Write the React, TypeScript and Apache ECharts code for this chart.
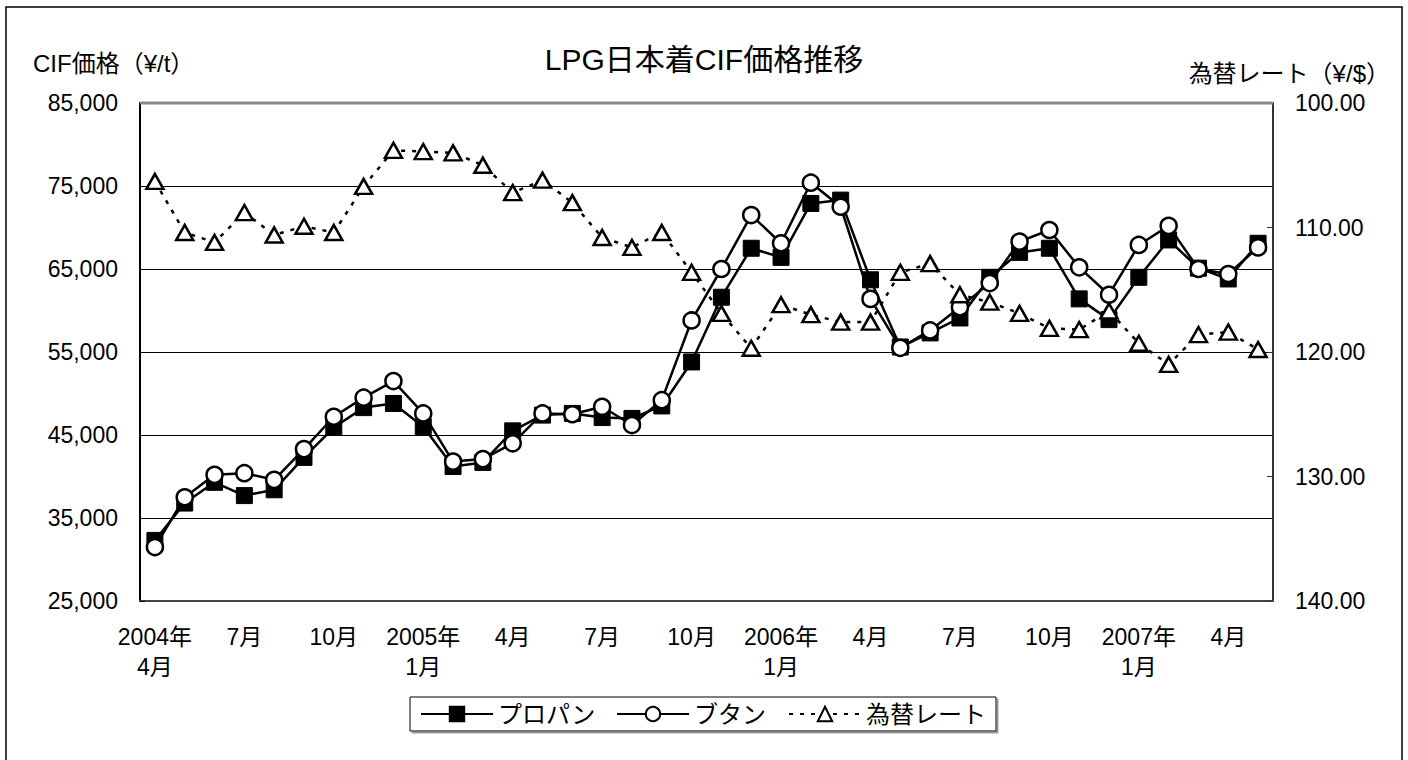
import React, { useEffect, useRef } from "react";
import * as echarts from "echarts";

const categories: string[] = [
  "2004年\n4月", "5月", "6月", "7月", "8月", "9月", "10月", "11月", "12月",
  "2005年\n1月", "2月", "3月", "4月", "5月", "6月", "7月", "8月", "9月", "10月", "11月", "12月",
  "2006年\n1月", "2月", "3月", "4月", "5月", "6月", "7月", "8月", "9月", "10月", "11月", "12月",
  "2007年\n1月", "2月", "3月", "4月", "5月",
];

const propane: number[] = [
  32300, 36800, 39300, 37700, 38400, 42300, 45900, 48300, 48800, 46000, 41200, 41700,
  45500, 47400, 47600, 47100, 47000, 48500, 53800, 61600, 67500, 66400, 72900, 73300,
  63700, 55600, 57300, 59100, 64000, 67000, 67500, 61400, 58900, 64000, 68500, 65100,
  63800, 68100,
];

const butane: number[] = [
  31500, 37500, 40200, 40400, 39600, 43300, 47200, 49500, 51500, 47600, 41800, 42100,
  44000, 47600, 47500, 48400, 46200, 49200, 58800, 65000, 71500, 68100, 75400, 72500,
  61400, 55500, 57600, 60400, 63300, 68300, 69700, 65200, 61900, 67900, 70200, 65000,
  64400, 67600,
];

const exchangeRate: number[] = [
  106.3, 110.4, 111.2, 108.8, 110.6, 109.9, 110.4, 106.7, 103.8, 103.9, 104.0, 105.0,
  107.2, 106.2, 108.0, 110.8, 111.6, 110.4, 113.6, 116.9, 119.7, 116.2, 117.0, 117.6,
  117.6, 113.6, 112.9, 115.4, 116.0, 116.9, 118.1, 118.2, 116.7, 119.3, 121.0, 118.6,
  118.4, 119.8,
];

const seriesNames = ["プロパン", "ブタン", "為替レート"];
const titleText = "LPG日本着CIF価格推移";
const leftAxisName = "CIF価格（¥/t）";
const rightAxisName = "為替レート（¥/$）";

const FONT = "'Liberation Sans', 'Noto Sans CJK JP', sans-serif";

export default function App() {
  const ref = useRef<HTMLDivElement>(null);
  useEffect(() => {
    if (!ref.current) return;
    const chart = echarts.init(ref.current, undefined, { renderer: "svg" });
    chart.setOption({
      animation: false,
      backgroundColor: "#fff",
      textStyle: { fontFamily: FONT, color: "#000" },
      title: {
        text: titleText,
        left: "center",
        top: 39,
        textStyle: { fontFamily: FONT, fontSize: 30, fontWeight: "normal", color: "#000" },
      },
      graphic: [
        {
          type: "rect",
          shape: { x: 6, y: 7, width: 1396, height: 800 },
          style: { fill: "none", stroke: "#000", lineWidth: 1.5 },
          silent: true,
        },
        {
          type: "line",
          shape: { x1: 140, y1: 103, x2: 1273, y2: 103 },
          style: { stroke: "#888", lineWidth: 3 },
          silent: true,
          z: 1,
        },
        {
          type: "text",
          x: 33,
          y: 63,
          style: { text: leftAxisName, font: `24px ${FONT}`, fill: "#000", textVerticalAlign: "middle" },
        },
        {
          type: "text",
          x: 1390,
          y: 73,
          style: { text: rightAxisName, font: `24px ${FONT}`, fill: "#000", textAlign: "right", textVerticalAlign: "middle" },
        },
      ],
      legend: {
        left: 410,
        top: 697,
        itemWidth: 72,
        itemHeight: 18,
        itemGap: 22,
        padding: [5, 10, 5, 10],
        borderColor: "#000",
        borderWidth: 1,
        backgroundColor: "#fff",
        shadowColor: "#999",
        shadowOffsetX: 2,
        shadowOffsetY: 2,
        shadowBlur: 0,
        textStyle: { fontFamily: FONT, fontSize: 24, color: "#000" },
        data: seriesNames,
      },
      grid: { left: 140, right: 135, top: 103, bottom: 159, containLabel: false },
      xAxis: {
        type: "category",
        data: categories,
        boundaryGap: true,
        axisLine: { lineStyle: { color: "#444", width: 2 } },
        axisTick: { inside: true, length: 5, interval: 0, lineStyle: { color: "#444", width: 1 } },
        axisLabel: {
          interval: 2,
          margin: 21,
          fontSize: 23,
          lineHeight: 30,
          color: "#000",
          fontFamily: FONT,
        },
      },
      yAxis: [
        {
          type: "value",
          min: 25000,
          max: 85000,
          interval: 10000,
          position: "left",
          axisLine: { show: true, lineStyle: { color: "#000", width: 2 } },
          axisTick: { show: true, inside: true, length: 5, lineStyle: { color: "#000" } },
          axisLabel: {
            margin: 22,
            fontSize: 23,
            color: "#000",
            fontFamily: FONT,
            formatter: (v: number) => v.toLocaleString("en-US"),
          },
          splitLine: { show: true, lineStyle: { color: "#000", width: 1 } },
        },
        {
          type: "value",
          min: 100,
          max: 140,
          interval: 10,
          inverse: true,
          position: "right",
          axisLine: { show: true, lineStyle: { color: "#333", width: 2 } },
          axisTick: { show: true, inside: true, length: 6, lineStyle: { color: "#333" } },
          axisLabel: {
            margin: 22,
            fontSize: 23,
            color: "#000",
            fontFamily: FONT,
            formatter: (v: number) => v.toFixed(2),
          },
          splitLine: { show: false },
        },
      ],
      series: [
        {
          name: seriesNames[0],
          type: "line",
          data: propane,
          yAxisIndex: 0,
          symbol: "rect",
          symbolSize: 16,
          lineStyle: { color: "#000", width: 2.5 },
          itemStyle: { color: "#000", borderColor: "#000", borderWidth: 1 },
          z: 3,
        },
        {
          name: seriesNames[1],
          type: "line",
          data: butane,
          yAxisIndex: 0,
          symbol: "circle",
          symbolSize: 16,
          lineStyle: { color: "#000", width: 2.5 },
          itemStyle: { color: "#fff", borderColor: "#000", borderWidth: 2.5 },
          z: 4,
        },
        {
          name: seriesNames[2],
          type: "line",
          data: exchangeRate,
          yAxisIndex: 1,
          symbol: "triangle",
          symbolSize: [17, 15],
          lineStyle: { color: "#000", width: 2.5, type: [4, 7] },
          itemStyle: { color: "#fff", borderColor: "#000", borderWidth: 2.5 },
          z: 5,
        },
      ],
    });
    return () => chart.dispose();
  }, []);
  return (
    <div
      ref={ref}
      style={{ position: "fixed", left: 0, top: 0, width: 1408, height: 760 }}
    />
  );
}
